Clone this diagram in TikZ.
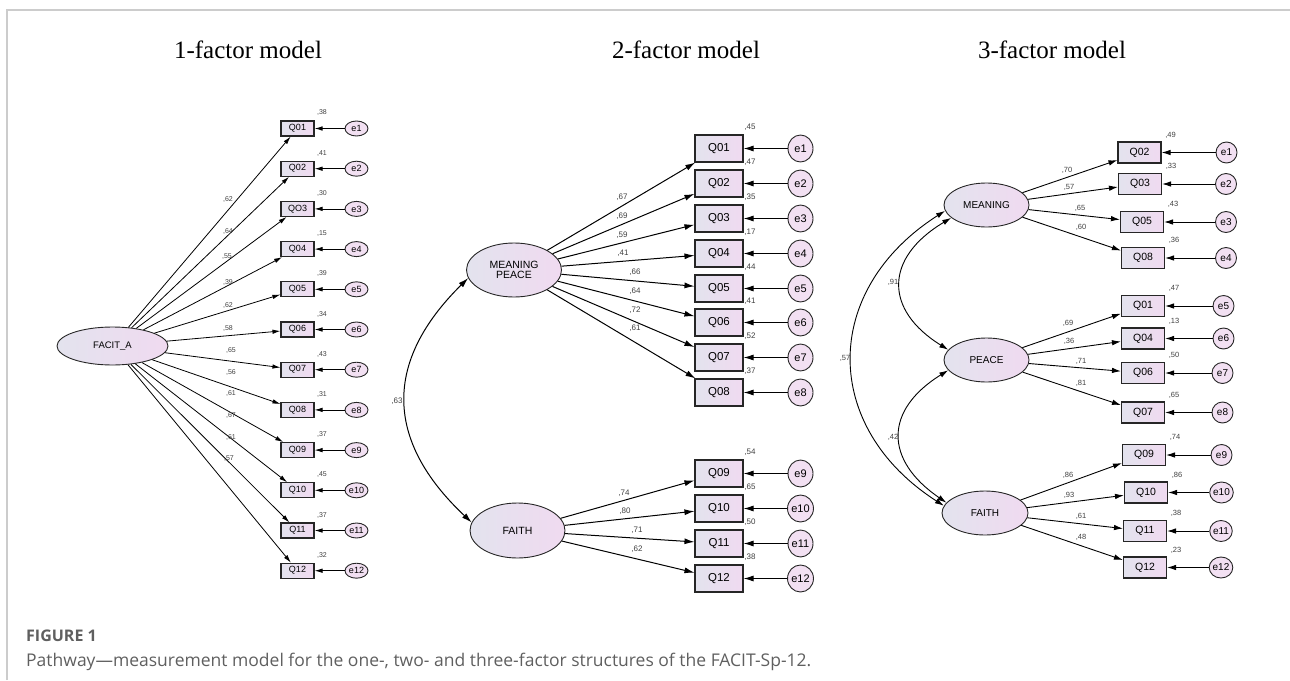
\documentclass[tikz,border=0pt]{standalone}
\usepackage{fontspec}
\setmainfont{Liberation Serif}
\setsansfont{Liberation Sans}
\newfontfamily\captionfont{Open Sans}
\usetikzlibrary{arrows.meta,shapes.geometric}
\definecolor{boxleft}{HTML}{E3E3EE}
\definecolor{boxright}{HTML}{F0DAF0}
\definecolor{errfill}{HTML}{F2E0F2}
\definecolor{framegray}{HTML}{CCCCCC}
\definecolor{capgray}{HTML}{5F5F5F}
\newcommand{\fsz}[1]{\fontsize{#1}{#1}\selectfont}
\tikzstyle{every node}=[inner sep=0pt]
\tikzstyle{latent}=[ellipse,draw=black!85,line width=0.9pt,left color=boxleft,right color=boxright,align=center]
\tikzstyle{item}=[rectangle,draw=black!85,line width=1.1pt,left color=boxleft,right color=boxright]
\tikzstyle{err}=[ellipse,draw=black!85,line width=0.9pt,fill=errfill]
\tikzstyle{coef}=[text=black!75]
\tikzstyle{title}=[font=\fsz{25}]

\begin{document}
\begin{tikzpicture}[x=1pt,y=-1pt]
\useasboundingbox (0,0) rectangle (1290,680);
\draw[framegray,line width=1.5pt] (7,680) -- (7,10) -- (1290,10);

\node[title] (t1) at (248,50) {1-factor model};
\node[title] (t2) at (686,50) {2-factor model};
\node[title] (t3) at (1052,50) {3-factor model};

% one factor
\begin{scope}[item/.append style={minimum width=33pt,minimum height=15pt,font=\sffamily\fsz{9}},
  err/.append style={minimum width=23pt,minimum height=15pt,font=\sffamily\fsz{9}},
  coef/.append style={font=\sffamily\fsz{7}},line width=0.8pt,>={Latex[length=8pt,width=4.5pt]}]
\node[latent,minimum width=111pt,minimum height=38pt,font=\sffamily\fsz{9.5}] (facit) at (112.5,346) {FACIT\_A};
\foreach \q/\r [count=\n] in {01/38,02/41,O3/30,04/15,05/39,06/34,07/43,08/31,09/37,10/45,11/37,12/32}{
  \pgfmathsetmacro\yy{128.5+(\n-1)*40.2}
  \node[item] (a\n) at (297.5,\yy) {Q\q};
  \node[err] (ae\n) at (356.5,\yy) {e\n};
  \node[coef] (ar\n) at (322,\yy-15.5) {,\r};
  \draw[->] (facit) -- (a\n);
  \draw[->] (ae\n) -- (a\n);
}
\foreach \v/\x/\y [count=\n] in {62/228/200,64/228/232,55/227/257,39/228/282,62/228/305,58/228/328,
  65/231/350,56/231/372,61/231/393,67/231/415,61/231/437,57/229/459}
  \node[coef] (al\n) at (\x,\y) {,\v};
\end{scope}

% two factors
\begin{scope}[item/.append style={minimum width=48pt,minimum height=27pt,font=\sffamily\fsz{11.5}},
  err/.append style={minimum width=25pt,minimum height=27pt,font=\sffamily\fsz{11}},
  coef/.append style={font=\sffamily\fsz{8}},line width=1pt,>={Latex[length=10pt,width=6pt]}]
\node[latent,minimum width=95pt,minimum height=54pt,font=\sffamily\fsz{10.5}] (mp) at (514,270) {MEANING\\PEACE};
\node[latent,minimum width=95pt,minimum height=55pt,font=\sffamily\fsz{10.5}] (faith2) at (517.5,530.5) {FAITH};
\foreach \q/\yy/\r [count=\n] in {01/148.5/45,02/183.5/47,03/218.5/35,04/253.5/17,05/288.5/44,06/322.5/41,07/357.5/52,08/392.5/37}{
  \node[item] (b\n) at (719,\yy) {Q\q};
  \node[err] (be\n) at (800.5,\yy) {e\n};
  \node[coef] (br\n) at (750,\yy-21) {,\r};
  \draw[->] (mp) -- (b\n);
  \draw[->] (be\n) -- (b\n);
}
\foreach \q/\yy/\r [count=\n from 9] in {09/473.5/54,10/508.5/65,11/543.5/50,12/578.5/38}{
  \node[item] (b\n) at (719,\yy) {Q\q};
  \node[err] (be\n) at (800.5,\yy) {e\n};
  \node[coef] (br\n) at (750,\yy-21) {,\r};
  \draw[->] (faith2) -- (b\n);
  \draw[->] (be\n) -- (b\n);
}
\foreach \v/\x/\y [count=\n] in {67/622/197,69/622/216,59/622/235,41/623/253,66/635/272,64/635/291,72/635/310,61/635/328,
  74/624/493,80/625/511,71/637/530,62/637/549}
  \node[coef] (bl\n) at (\x,\y) {,\v};
\draw[<->] (mp.190) .. controls (384,361) and (384,440) .. (faith2.170);
\node[coef] (bc) at (397,401) {,63};
\end{scope}

% three factors
\begin{scope}[item/.append style={minimum width=43pt,minimum height=21pt,font=\sffamily\fsz{10.5}},
  err/.append style={minimum width=21pt,minimum height=21pt,font=\sffamily\fsz{10}},
  coef/.append style={font=\sffamily\fsz{7.5}},line width=0.9pt,>={Latex[length=9pt,width=5.5pt]}]
\node[latent,minimum width=85pt,minimum height=44pt,font=\sffamily\fsz{10}] (meaning) at (986.5,205) {MEANING};
\node[latent,minimum width=85pt,minimum height=44pt,font=\sffamily\fsz{10}] (peace) at (986.5,360) {PEACE};
\node[latent,minimum width=86pt,minimum height=44pt,font=\sffamily\fsz{10}] (faith3) at (985,513) {FAITH};
\foreach \q/\yy/\x/\r/\ex [count=\n] in {02/152.5/1139.5/49/1226.5,03/184/1140/33/1226,05/222/1142/43/1226,08/258/1143/36/1226}{
  \node[item] (c\n) at (\x,\yy) {Q\q};
  \node[err] (ce\n) at (\ex,\yy) {e\n};
  \node[coef] (cr\n) at (\x+31,\yy-17.5) {,\r};
  \draw[->] (meaning) -- (c\n);
  \draw[->] (ce\n) -- (c\n);
}
\foreach \q/\yy/\x/\r/\ex [count=\n from 5] in {01/306/1143/47/1223.5,04/338.5/1143/13/1223.5,06/373/1143/50/1222.5,07/412.5/1143/65/1222.5}{
  \node[item] (c\n) at (\x,\yy) {Q\q};
  \node[err] (ce\n) at (\ex,\yy) {e\n};
  \node[coef] (cr\n) at (\x+31,\yy-17.5) {,\r};
  \draw[->] (peace) -- (c\n);
  \draw[->] (ce\n) -- (c\n);
}
\foreach \q/\yy/\x/\r/\ex [count=\n from 9] in {09/455/1144/74/1221.5,10/492.5/1146/86/1221.5,11/531/1145/38/1221,12/567.5/1145/23/1221}{
  \node[item] (c\n) at (\x,\yy) {Q\q};
  \node[err] (ce\n) at (\ex,\yy) {e\n};
  \node[coef] (cr\n) at (\x+31,\yy-17.5) {,\r};
  \draw[->] (faith3) -- (c\n);
  \draw[->] (ce\n) -- (c\n);
}
\foreach \v/\x/\y [count=\n] in {70/1067/170,57/1069/187,65/1080/208,60/1081/227,69/1068/323,36/1069/341,71/1081/361,81/1081/383,
  86/1068/475,93/1069/495,61/1081/516,48/1081/537}
  \node[coef] (cl\n) at (\x,\y) {,\v};
\draw[<->] (meaning.188) .. controls (821,290) and (821,427) .. (faith3.170);
\draw[<->] (meaning.200) .. controls (884,258) and (884,310) .. (peace.165);
\draw[<->] (peace.195) .. controls (884,410) and (884,460) .. (faith3.165);
\node[coef] (c91) at (893,282) {,91};
\node[coef] (c42) at (893,437) {,42};
\node[coef] (c57) at (845,358) {,57};
\end{scope}

% caption
\node[anchor=west,font=\captionfont\bfseries\fsz{16},text=capgray] (fig) at (26,636) {FIGURE 1};
\node[anchor=west,font=\captionfont\fsz{17.5},text=capgray] (cap) at (26,662) {Pathway—measurement model for the one-, two- and three-factor structures of the FACIT-Sp-12.};
\end{tikzpicture}
\end{document}
